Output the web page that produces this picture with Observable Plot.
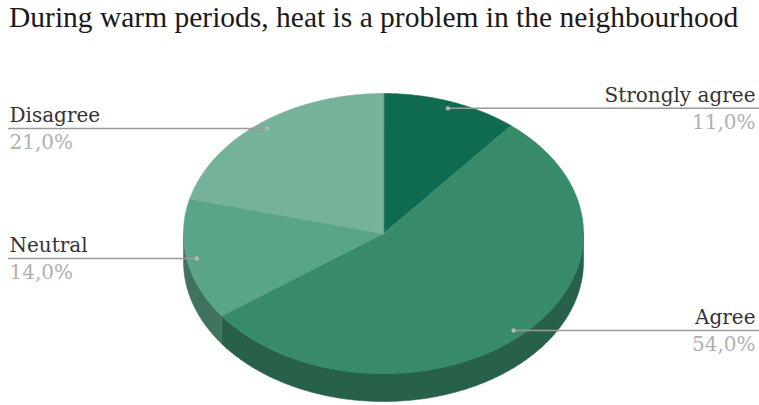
<!DOCTYPE html>
<html>
<head>
<meta charset="utf-8">
<script src="https://cdn.jsdelivr.net/npm/d3@7"></script>
<script src="https://cdn.jsdelivr.net/npm/@observablehq/plot@0.6"></script>
<style>
  html, body { margin: 0; padding: 0; background: #fff; }
  #title { font-family: "Liberation Serif", serif; font-size: 29.5px; line-height: 34px; height: 45px; padding-left: 9px; color: #1a1a1a; white-space: nowrap; }
  svg { display: block; }
</style>
</head>
<body>
<div id="title">During warm periods, heat is a problem in the neighbourhood</div>
<div id="chart"></div>
<script>
const categories = ["Strongly agree", "Agree", "Neutral", "Disagree"];
const values = [11.0, 54.0, 14.0, 21.0];
const colors = ["#0e6b4f", "#388b68", "#5aa586", "#74b39a"];

// geometry (data units: pie radius 1, tilt and depth)
const TILT = 0.7, DEPTH = 0.14, LABEL_R = 0.95;
const W = 759, H = 360;
const xOpts = {domain: [-1, 1], range: [183, 583]};
const yOpts = {domain: [-TILT, TILT], range: [328, 48]};
const xs = Plot.scale({x: xOpts});

const arcs = d3.pie().sort(null).value(d => d)(values).map((a, i) => ({...a, name: categories[i], color: colors[i]}));
const step = Math.PI / 360;
function arcPts(a0, a1, off) {
  const pts = [];
  const n = Math.max(2, Math.ceil((a1 - a0) / step));
  for (let k = 0; k <= n; k++) { const t = a0 + (a1 - a0) * k / n; pts.push([Math.sin(t), TILT * Math.cos(t) - off]); }
  return pts;
}
const tops = [], walls = [];
arcs.forEach((a, i) => {
  const pts = [[0, 0], ...arcPts(a.startAngle, a.endAngle, 0)];
  pts.forEach(p => tops.push({x: p[0], y: p[1], z: i, c: a.color}));
  const w0 = Math.max(a.startAngle, Math.PI / 2), w1 = Math.min(a.endAngle, 3 * Math.PI / 2);
  if (w1 > w0) {
    const side = d3.color(a.color).darker(1).formatHex();
    const wp = [...arcPts(w0, w1, 0), ...arcPts(w0, w1, DEPTH).reverse()];
    wp.forEach(p => walls.push({x: p[0], y: p[1], z: i, c: side}));
  }
});

const labels = arcs.map(a => {
  const m = (a.startAngle + a.endAngle) / 2;
  const px = LABEL_R * Math.sin(m), py = LABEL_R * TILT * Math.cos(m);
  const right = px > 0;
  return {name: a.name, pct: a.data.toFixed(1).replace(".", ",") + "%", px, py, right,
    x1: right ? px : xs.invert(8), x2: right ? xs.invert(W) : px};
});
const L = labels.filter(d => !d.right), R = labels.filter(d => d.right);

const plot = Plot.plot({
  width: W, height: H, margin: 0,
  x: {...xOpts, axis: null}, y: {...yOpts, axis: null},
  color: {type: "identity"},
  marks: [
    Plot.line(walls, {x: "x", y: "y", z: "z", fill: "c", stroke: "c", strokeWidth: 0.6, curve: "linear-closed"}),
    Plot.line(tops, {x: "x", y: "y", z: "z", fill: "c", stroke: "c", strokeWidth: 0.6, curve: "linear-closed"}),
    Plot.ruleY(labels, {y: "py", x1: "x1", x2: "x2", stroke: "#9a9a9a", strokeWidth: 1.5}),
    Plot.dot(labels, {x: "px", y: "py", r: 2.2, fill: "#b5b5b5", stroke: null}),
    Plot.text(L, {y: "py", text: "name", frameAnchor: "left", textAnchor: "start", dx: 9, dy: -6.5, lineAnchor: "bottom", fill: "#333", fontSize: 20, fontFamily: "DejaVu Serif"}),
    Plot.text(L, {y: "py", text: "pct", frameAnchor: "left", textAnchor: "start", dx: 9, dy: 21, lineAnchor: "bottom", fill: "#b0b0b0", fontSize: 20, fontFamily: "DejaVu Serif"}),
    Plot.text(R, {y: "py", text: "name", frameAnchor: "right", textAnchor: "end", dx: -4, dy: -6.5, lineAnchor: "bottom", fill: "#333", fontSize: 20, fontFamily: "DejaVu Serif"}),
    Plot.text(R, {y: "py", text: "pct", frameAnchor: "right", textAnchor: "end", dx: -4, dy: 21, lineAnchor: "bottom", fill: "#b0b0b0", fontSize: 20, fontFamily: "DejaVu Serif"})
  ]
});
document.getElementById("chart").appendChild(plot);
</script>
</body>
</html>
